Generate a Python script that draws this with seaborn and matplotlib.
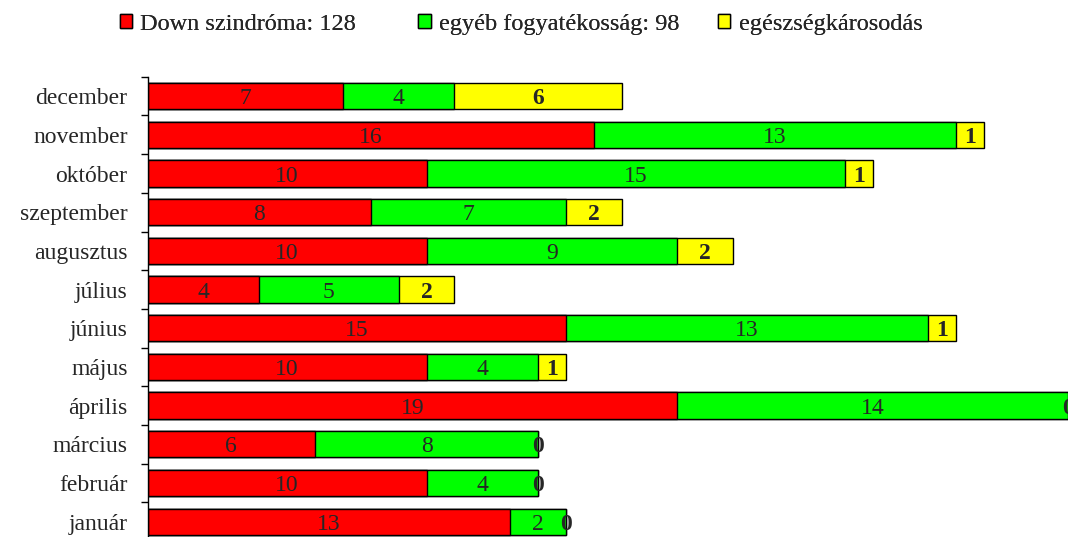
import numpy as np
import pandas as pd
import matplotlib
matplotlib.use('Agg')
import matplotlib.pyplot as plt
import seaborn as sns
from matplotlib.patches import Patch

months = ['december', 'november', 'október', 'szeptember', 'augusztus', 'július',
          'június', 'május', 'április', 'március', 'február', 'január']
down = [7, 16, 10, 8, 10, 4, 15, 10, 19, 6, 10, 13]
egyeb = [4, 13, 15, 7, 9, 5, 13, 4, 14, 8, 4, 2]
egeszseg = [6, 1, 1, 2, 2, 2, 1, 1, 0, 0, 0, 0]
legend_labels = ['Down szindróma: 128', 'egyéb fogyatékosság: 98', 'egészségkárosodás']
colors = ['#ff0000', '#00ff00', '#ffff00']

sns.set_style('white')
plt.rcParams['font.family'] = ['Liberation Serif', 'DejaVu Serif']

df = pd.DataFrame({'month': months, 'down': down, 'egyeb': egyeb, 'eg': egeszseg})
df['c1'] = df['down']
df['c2'] = df['down'] + df['egyeb']
df['c3'] = df['c2'] + df['eg']

fig = plt.figure(figsize=(10.7, 5.37), dpi=100)
ax = fig.add_axes([0.138, -0.0075, 0.86, 0.8645])

# stacked look: draw cumulative totals, largest first
for col, c in zip(['c3', 'c2', 'c1'], colors[::-1]):
    sns.barplot(data=df, x=col, y='month', order=months, orient='h', color=c,
                edgecolor='black', linewidth=1, width=0.68, saturation=1, ax=ax)

ax.set_xlim(0, 33)
ax.set_ylim(len(months) - 0.5, -0.5)

fs = 17
for i, row in df.iterrows():
    ax.text(row['down'] / 2, i, str(row['down']), ha='center', va='center_baseline', fontsize=fs)
    ax.text(row['down'] + row['egyeb'] / 2, i, str(row['egyeb']), ha='center',
            va='center_baseline', fontsize=fs)
    ax.text(row['c2'] + row['eg'] / 2, i, str(row['eg']), ha='center', va='center_baseline',
            fontsize=fs, fontweight='bold', clip_on=True)

ax.set_xlabel('')
ax.set_ylabel('')
ax.set_xticks([])
sns.despine(ax=ax, top=True, right=True, bottom=True, left=False)
ax.spines['left'].set_color('black')
ax.spines['left'].set_linewidth(1)
ax.set_yticks(range(len(months)))
ax.set_yticklabels(months, fontsize=fs)
ax.set_yticks(np.arange(-0.5, len(months), 1), minor=True)
ax.tick_params(axis='y', which='major', length=0, pad=14.5)
ax.tick_params(axis='y', which='minor', length=5, width=1, color='black', left=True)

# one legend entry each, so the uneven spacing of the original can be kept
for c, lab, x0 in zip(colors, legend_labels, [0.112, 0.391, 0.671]):
    leg = fig.legend([Patch(facecolor=c, edgecolor='black', linewidth=1)], [lab],
                     loc='center left', bbox_to_anchor=(x0, 0.955), frameon=False,
                     prop={'family': 'Liberation Serif', 'size': 17.5},
                     handlelength=0.5, handleheight=0.5, handletextpad=0.35,
                     borderpad=0, borderaxespad=0)
    fig.add_artist(leg)

fig.savefig('out.png', dpi=100)
